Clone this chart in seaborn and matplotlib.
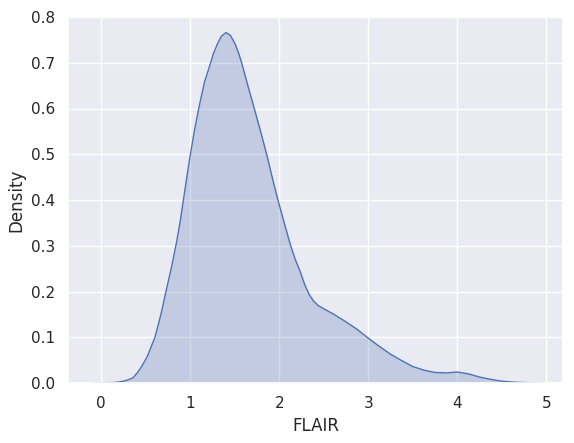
import matplotlib
matplotlib.use("Agg")
import matplotlib.pyplot as plt
import seaborn as sns
import pandas as pd

# Density curve (FLAIR value, estimated density)
flair = [-0.1, 0.0, 0.1, 0.17, 0.25, 0.3, 0.353, 0.40, 0.454, 0.517, 0.603,
         0.673, 0.727, 0.79, 0.848, 0.888, 0.925, 0.965, 1.004, 1.05, 1.1, 1.16,
         1.229, 1.26, 1.307, 1.35, 1.40, 1.45, 1.502, 1.54, 1.577, 1.64, 1.719,
         1.79, 1.858, 1.92, 1.985, 2.06, 2.128, 2.18, 2.232, 2.29, 2.34, 2.39,
         2.44, 2.52, 2.607, 2.73, 2.87, 3.0, 3.125, 3.25, 3.375, 3.5, 3.625,
         3.75, 3.875, 4.0, 4.125, 4.25, 4.375, 4.5, 4.625, 4.75, 4.96]
density = [0.0, 0.0005, 0.0008, 0.0015, 0.004, 0.007, 0.011, 0.021, 0.036, 0.058, 0.1,
           0.152, 0.2, 0.254, 0.31, 0.355, 0.403, 0.455, 0.503, 0.555, 0.605, 0.658,
           0.7, 0.72, 0.742, 0.758, 0.766, 0.76, 0.742, 0.723, 0.7, 0.655, 0.6,
           0.55, 0.5, 0.45, 0.4, 0.347, 0.3, 0.27, 0.245, 0.213, 0.192, 0.178,
           0.169, 0.16, 0.151, 0.136, 0.118, 0.098, 0.08, 0.063, 0.049, 0.036, 0.028,
           0.023, 0.022, 0.024, 0.02, 0.013, 0.008, 0.004, 0.002, 0.001, 0.0]

df = pd.DataFrame({"FLAIR": flair, "Density": density})

sns.set_theme(style="darkgrid")
fig = plt.figure(figsize=(5.74, 4.43), dpi=100)
ax = fig.add_axes([68/574, 1-383/443, (563-68)/574, (383-17)/443])

color = sns.color_palette()[0]
sns.lineplot(data=df, x="FLAIR", y="Density", ax=ax, color=color, linewidth=1.0)
ax.fill_between(df["FLAIR"], 0, df["Density"], color=color, alpha=0.25, linewidth=0)

ax.set_xlim(-0.374, 5.188)
ax.set_ylim(0, 0.8)
ax.set_xticks([0, 1, 2, 3, 4, 5])
ax.set_yticks([0.0, 0.1, 0.2, 0.3, 0.4, 0.5, 0.6, 0.7, 0.8])
ax.set_xlabel("FLAIR")
ax.set_ylabel("Density")

fig.savefig("out.png", dpi=100)
